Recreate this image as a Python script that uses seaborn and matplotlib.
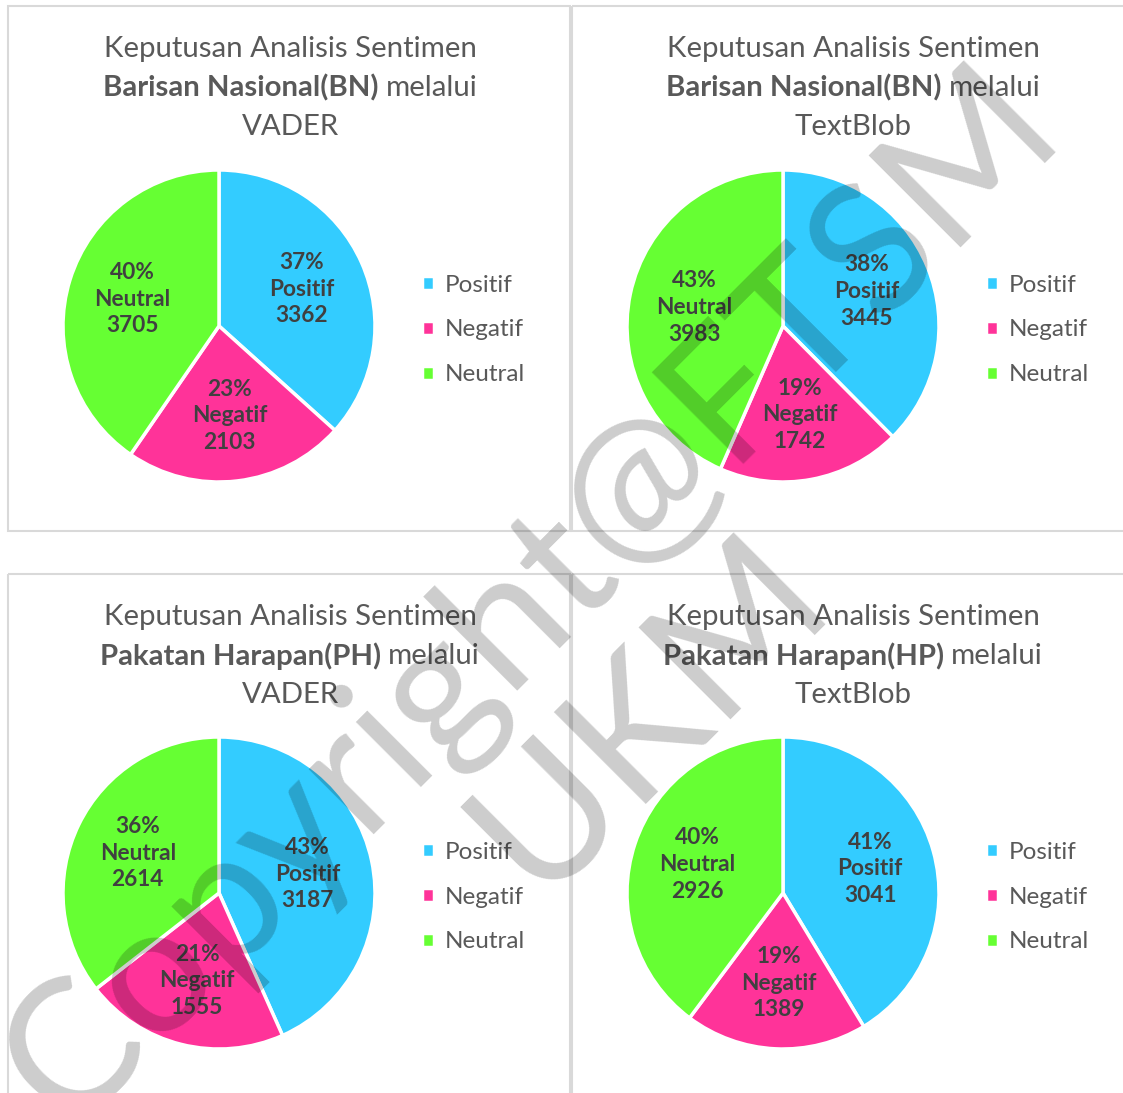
import matplotlib
matplotlib.use("Agg")
import matplotlib.pyplot as plt
from matplotlib.patches import Rectangle
import seaborn as sns

# Sentiment counts per chart (order: Positif, Negatif, Neutral)
categories = ["Positif", "Negatif", "Neutral"]
bn_vader = [3362, 2103, 3705]
bn_textblob = [3445, 1742, 3983]
ph_vader = [3187, 1555, 2614]
hp_textblob = [3041, 1389, 2926]

party_names = ["Barisan Nasional(BN)", "Barisan Nasional(BN)",
               "Pakatan Harapan(PH)", "Pakatan Harapan(HP)"]
methods = ["VADER", "TextBlob", "VADER", "TextBlob"]
series = [bn_vader, bn_textblob, ph_vader, hp_textblob]

palette = sns.color_palette(["#33CCFF", "#FF3399", "#66FF33"])

sns.set_theme(style="white")
plt.rcParams['font.family'] = ['Lato', 'DejaVu Sans']

W, H = 1123, 1093
fig = plt.figure(figsize=(W / 100, H / 100), dpi=100)
fig.patch.set_facecolor("white")

# background axes in pixel coordinates (y down) for frames and titles
bg = fig.add_axes([0, 0, 1, 1], zorder=-1)
bg.set_xlim(0, W)
bg.set_ylim(H, 0)
bg.axis("off")

panels = [(8, 6, 570, 531), (572, 6, 1140, 531),
          (8, 574, 570, 1100), (572, 574, 1140, 1100)]
pie_centers = [(219, 326), (783, 326), (219, 893), (783, 893)]
title_cx = [290, 853, 290, 853]
radius = 156

title_color = "#595959"
label_color = "#404040"
title_size = 21.2

renderer = fig.canvas.get_renderer()

for i, counts in enumerate(series):
    x0, y0, x1, y1 = panels[i]
    bg.add_patch(Rectangle((x0, y0), x1 - x0, y1 - y0, fill=False,
                           edgecolor="#D9D9D9", linewidth=1.5))

    # title, three lines, second line partly bold
    cx = title_cx[i]
    bg.text(cx, y0 + 43, "Keputusan Analisis Sentimen", ha="center", va="center",
            fontsize=title_size, color=title_color)
    tb = bg.text(0, y0 + 82, party_names[i], ha="left", va="center",
                 fontsize=title_size, color=title_color, weight="bold")
    tr = bg.text(0, y0 + 82, "melalui", ha="left", va="center",
                 fontsize=title_size, color=title_color)
    wb = tb.get_window_extent(renderer).width
    wr = tr.get_window_extent(renderer).width
    gap = 0.25 * title_size * 100 / 72
    start = cx - (wb + gap + wr) / 2
    tb.set_x(start)
    tr.set_x(start + wb + gap)
    bg.text(cx, y0 + 121, methods[i], ha="center", va="center",
            fontsize=title_size, color=title_color)

    # pie
    pcx, pcy = pie_centers[i]
    ax = fig.add_axes([(pcx - radius) / W, 1 - (pcy + radius) / H,
                       2 * radius / W, 2 * radius / H])
    total = sum(counts)
    wedges, texts, autotexts = ax.pie(
        counts, colors=palette, startangle=90, counterclock=False,
        autopct="%1.0f%%", pctdistance=0.58,
        wedgeprops=dict(edgecolor="white", linewidth=2.5),
        textprops=dict(fontsize=16.3, weight="bold", color=label_color,
                       linespacing=1.33))
    for t, cat, c in zip(autotexts, categories, counts):
        t.set_text(f"{round(100 * c / total)}%\n{cat}\n{c}")
    ax.set_xlim(-1, 1)
    ax.set_ylim(-1, 1)

    ax.legend(wedges, categories, loc="center left",
              bbox_to_anchor=((pcx + 203) / W, 1 - (pcy + 4) / H),
              bbox_transform=fig.transFigure, frameon=False,
              borderpad=0, borderaxespad=0, handlelength=0.5,
              handleheight=0.5, handletextpad=0.45, labelspacing=0.98,
              fontsize=17.5, labelcolor=title_color)

# watermark
fig.text(590 / W, 1 - 655 / H, "Copyright@FTSM\nUKM", rotation=45,
         ha="center", va="center", multialignment="center",
         fontsize=130, color="black", alpha=0.2, linespacing=1.0,
         weight="normal", zorder=10)

fig.savefig("out.png", dpi=100, facecolor="white")
